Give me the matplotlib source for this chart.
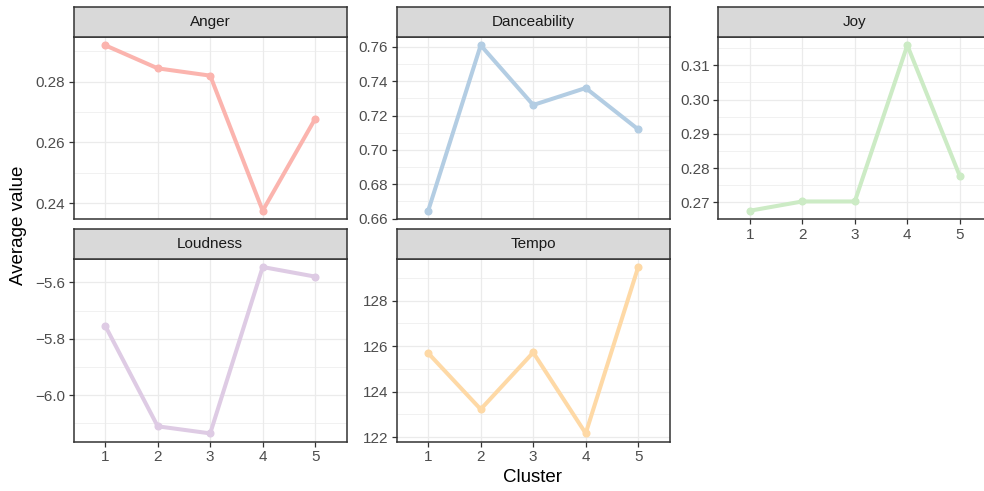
import matplotlib
matplotlib.use("Agg")
import matplotlib.pyplot as plt
from matplotlib.ticker import MultipleLocator, FuncFormatter
import numpy as np

plt.rcParams['font.family'] = ['Liberation Sans', 'DejaVu Sans']

clusters = [1, 2, 3, 4, 5]

anger = [0.2920, 0.2844, 0.2820, 0.2375, 0.2678]
danceability = [0.6646, 0.7610, 0.7262, 0.7361, 0.7120]
joy = [0.2676, 0.2703, 0.2703, 0.3158, 0.2777]
loudness = [-5.754, -6.110, -6.135, -5.546, -5.580]
tempo = [125.69, 123.22, 125.72, 122.16, 129.48]

features = ["Anger", "Danceability", "Joy", "Loudness", "Tempo"]
series = [anger, danceability, joy, loudness, tempo]
colors = ["#FBB4AE", "#B3CDE3", "#CCEBC5", "#DECBE4", "#FED9A6"]
y_steps = [0.02, 0.02, 0.01, 0.2, 2.0]
y_decimals = [2, 2, 2, 1, 0]

W, H = 984, 491
fig = plt.figure(figsize=(W / 100, H / 100), dpi=100)

# panel boxes in pixels: (left, right, top, bottom)
col_x = [(73.7, 346.7), (396.7, 669.7), (718.3, 991.3)]
row_y = [(37.0, 219.0), (258.7, 441.7)]
strip_h = 30.0
cells = [(0, 0), (0, 1), (0, 2), (1, 0), (1, 1)]
show_x = {"Joy", "Loudness", "Tempo"}

border = "#333333"
grid_c = "#EBEBEB"
text_c = "#4D4D4D"


def fmt_factory(dec):
    def f(v, pos):
        s = f"{v:.{dec}f}"
        return s.replace("-", "\u2212")
    return FuncFormatter(f)


for name, vals, col, step, dec, (r, c) in zip(features, series, colors, y_steps, y_decimals, cells):
    x0, x1 = col_x[c]
    yt, yb = row_y[r]
    ax = fig.add_axes([x0 / W, 1 - yb / H, (x1 - x0) / W, (yb - yt) / H])
    lo, hi = min(vals), max(vals)
    pad = (hi - lo) * 0.05
    ax.set_ylim(lo - pad, hi + pad)
    ax.set_xlim(0.4, 5.6)
    ax.set_xticks(clusters)
    ax.yaxis.set_major_locator(MultipleLocator(step))
    ax.yaxis.set_minor_locator(MultipleLocator(step / 2))
    ax.yaxis.set_major_formatter(fmt_factory(dec))
    ax.grid(True, which="major", color=grid_c, lw=0.9)
    ax.grid(True, which="minor", axis="y", color=grid_c, lw=0.5)
    ax.set_axisbelow(True)
    for sp in ax.spines.values():
        sp.set_color(border)
        sp.set_linewidth(1.1)
    ax.tick_params(axis="both", which="major", length=3.8, width=0.9, color=border,
                   labelcolor=text_c, labelsize=11, pad=2.5)
    ax.tick_params(axis="y", which="minor", length=0)
    if name not in show_x:
        ax.tick_params(axis="x", which="major", length=0, labelbottom=False)
    ax.plot(clusters, vals, color=col, lw=2.9, solid_capstyle="butt", zorder=3)
    ax.plot(clusters, vals, "o", color=col, ms=4.8, zorder=4)

    sax = fig.add_axes([x0 / W, 1 - yt / H, (x1 - x0) / W, strip_h / H])
    sax.set_facecolor("#D9D9D9")
    sax.set_xticks([])
    sax.set_yticks([])
    for sp in sax.spines.values():
        sp.set_color(border)
        sp.set_linewidth(1.1)
    sax.text(0.5, 0.5, name, ha="center", va="center", fontsize=11,
             color="#1A1A1A", transform=sax.transAxes)

fig.text(19 / W, 1 - 225 / H, "Average value", rotation=90, ha="center", va="center",
         fontsize=13.5, color="black")
fig.text(533 / W, 1 - 478 / H, "Cluster", ha="center", va="center",
         fontsize=13.5, color="black")

fig.savefig("out.png", dpi=100, facecolor="white")
